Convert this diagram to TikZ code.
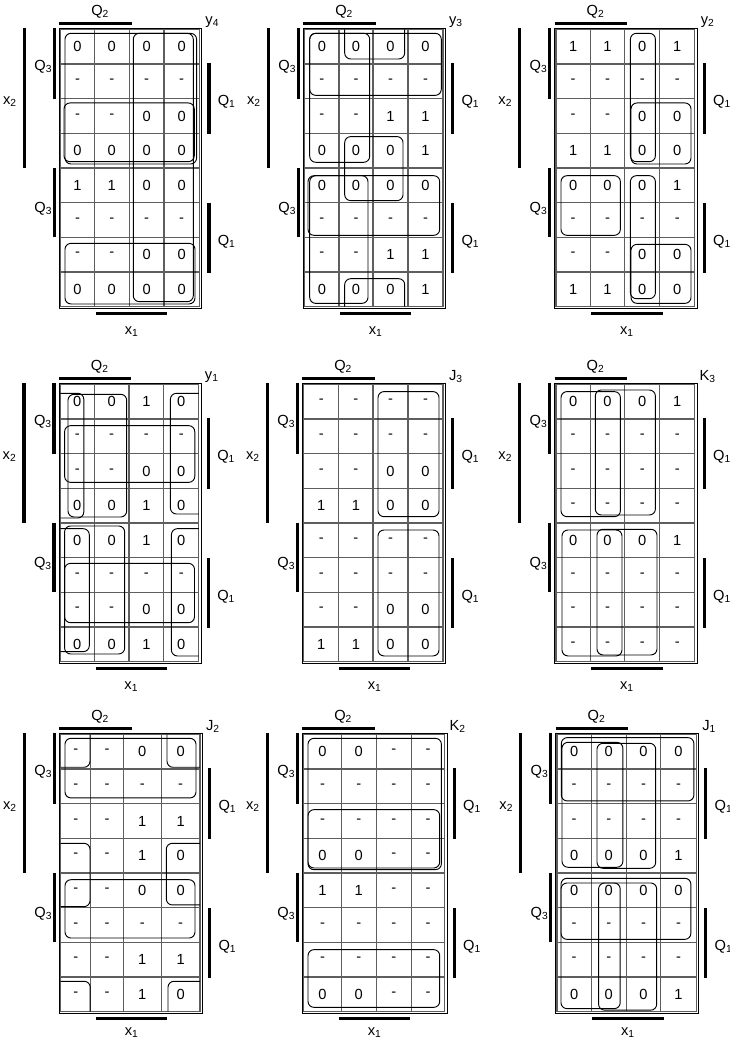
\documentclass[tikz,border=0pt]{standalone}
\usepackage{fontspec}
\setmainfont{Liberation Sans}
\usetikzlibrary{calc}
\definecolor{gridgray}{HTML}{5E5E5E}
\newcommand{\kfont}{\fontsize{11}{13}\selectfont}
\newcommand{\kh}{34.67}
\tikzset{
  kgrid/.style={draw=gridgray, line width=1pt},
  kframe/.style={draw=black, line width=0.6pt},
  kbar/.style={draw=black, line width=2.5pt},
  kloop/.style={draw=black, line width=0.7pt, rounded corners=4.5pt},
  kcell/.style={font=\kfont, inner sep=0pt},
  klabel/.style={font=\kfont, inner sep=0pt}
}
% #1 name, #2 top, #3-#7 column lines, #8 output, #9 gap below for x1
\newcommand{\kmap}[9]{%
  \foreach \x [count=\n from 0] in {#3,#4,#5,#6,#7}
    \coordinate (#1-v\n) at (\x,#2);
  \foreach \n in {0,...,8}
    \coordinate (#1-h\n) at (#3,{#2+\n*\kh});
  \foreach \a/\b [count=\n from 0] in {#3/#4,#4/#5,#5/#6,#6/#7}
    \coordinate (#1-c\n) at ({(\a+\b)/2},#2);
  \foreach \n in {0,...,7}
    \coordinate (#1-r\n) at (#3,{#2+(\n+0.5)*\kh});
  % grid
  \foreach \n in {1,2,3} \draw[kgrid] (#1-v\n) -- (#1-v\n |- #1-h8);
  \foreach \n in {1,...,7} \draw[kgrid] (#1-h\n) -- (#1-h\n -| #1-v4);
  \draw[kgrid] (#1-v0) rectangle (#1-v4 |- #1-h8);
  \draw[kframe] ($(#1-v0)+(-1.3,-1)$) rectangle ($(#1-v4 |- #1-h8)+(2.3,1.7)$);
  % bars
  \draw[kbar] ($(#1-v0)+(-1.3,-6)$) -- ($(#1-v0)+(71,-6)$);
  \draw[kbar] ($(#1-h8)+(35.3,6.7)$) -- ($(#1-h8)+(106.7,6.7)$);
  \draw[kbar] ($(#1-v0)+(-6.4,-1)$) -- ($(#1-h2)+(-6.4,0)$);
  \draw[kbar] ($(#1-h4)+(-6.4,0)$) -- ($(#1-h6)+(-6.4,0)$);
  \draw[kbar] ($(#1-v0)+(-36.4,-1)$) -- ($(#1-h4)+(-36.4,0)$);
  \draw[kbar] ($(#1-v4 |- #1-h1)+(9.6,-0.7)$) -- ($(#1-v4 |- #1-h3)+(9.6,1)$);
  \draw[kbar] ($(#1-v4 |- #1-h5)+(9.6,0.7)$) -- ($(#1-v4 |- #1-h7)+(9.6,1.3)$);
  % labels
  \node[klabel] (#1-q2) at ($(#1-v0)+(39.5,-17.5)$) {Q\textsubscript{2}};
  \node[klabel] (#1-x1) at ($(#1-h8)+(71,#9)$) {x\textsubscript{1}};
  \node[klabel] (#1-q3a) at ($(#1-v0)+(-17.4,37.4)$) {Q\textsubscript{3}};
  \node[klabel] (#1-q3b) at ($(#1-v0)+(-17.4,179)$) {Q\textsubscript{3}};
  \node[klabel] (#1-x2) at ($(#1-v0)+(-50.7,72.4)$) {x\textsubscript{2}};
  \node[klabel] (#1-q1a) at ($(#1-v4)+(27.4,72.4)$) {Q\textsubscript{1}};
  \node[klabel] (#1-q1b) at ($(#1-v4)+(27.4,212.4)$) {Q\textsubscript{1}};
  \node[klabel] (#1-fn) at ($(#1-v4)+(13,-7.6)$) {#8};
}
\newcommand{\kvals}[2]{%
  \foreach \row [count=\i from 0] in {#2}
    \foreach \v [count=\j from 0] in \row
      \node[kcell] (#1-\i\j) at (#1-c\j |- #1-r\i) {\v};
}
% #1 map, #2-#5 left/top/right/bottom lines, #6-#9 insets
\newcommand{\kloop}[9]{%
  \draw[kloop] ($(#1-v#2 |- #1-h#3)+(#6,#7)$) rectangle ($(#1-v#4 |- #1-h#5)+(-#8,-#9)$);
}

\begin{document}
\begin{tikzpicture}[x=0.75pt, y=-0.75pt]
  \useasboundingbox (0,0) rectangle (730,1040);

  % y4
  \kmap{m1}{29.3}{60.7}{94.3}{129.3}{164}{199.3}{y\textsubscript{4}}{25}
  \kvals{m1}{{0,0,0,0},{-,-,-,-},{-,-,0,0},{0,0,0,0},{1,1,0,0},{-,-,-,-},{-,-,0,0},{0,0,0,0}}
  \kloop{m1}{0}{0}{4}{4}{4.3}{4}{2.7}{4}
  \kloop{m1}{2}{0}{4}{8}{4}{4}{6}{5}
  \kloop{m1}{0}{2}{4}{4}{3.3}{4.3}{5}{6.3}
  \kloop{m1}{0}{6}{4}{8}{4.3}{6}{4.3}{2.7}

  % y3
  \kmap{m2}{29.3}{304.7}{339}{373}{408}{443}{y\textsubscript{3}}{25}
  \kvals{m2}{{0,0,0,0},{-,-,-,-},{-,-,1,1},{0,0,0,1},{0,0,0,0},{-,-,-,-},{-,-,1,1},{0,0,0,1}}
  \kloop{m2}{0}{0}{2}{4}{5}{4}{3.3}{5.7}
  \kloop{m2}{0}{0}{4}{2}{5}{4}{1.7}{3.3}
  \kloop{m2}{1}{3}{3}{5}{5.7}{3.3}{5}{2}
  \kloop{m2}{0}{4}{4}{6}{3.3}{7.7}{3.3}{2}
  \kloop{m2}{0}{4}{2}{8}{5}{7.7}{5}{3.3}
  \draw[kloop] ($(m2-v1)+(5.7,0)$) |- ($(m2-v3 |- m2-h1)+(-3.3,-5)$) -- ($(m2-v3)+(-3.3,0)$);
  \draw[kloop] ($(m2-v1 |- m2-h8)+(5.7,0)$) |- ($(m2-v3 |- m2-h7)+(-3.3,6.7)$) -- ($(m2-v3 |- m2-h8)+(-3.3,0)$);

  % y2
  \kmap{m3}{29.3}{556}{590.3}{624.7}{659.7}{694.7}{y\textsubscript{2}}{25}
  \kvals{m3}{{1,1,0,1},{-,-,-,-},{-,-,0,0},{1,1,0,0},{0,0,0,1},{-,-,-,-},{-,-,0,0},{1,1,0,0}}
  \kloop{m3}{2}{0}{3}{4}{5.7}{4}{4.3}{6.3}
  \kloop{m3}{2}{2}{4}{4}{6.3}{4.3}{3.7}{4}
  \kloop{m3}{0}{4}{2}{6}{5}{7.7}{4.3}{2}
  \kloop{m3}{2}{4}{3}{8}{5.7}{7.7}{4.3}{8}
  \kloop{m3}{2}{6}{4}{8}{6.3}{7}{3.7}{3.3}

  % y1
  \kmap{m4}{384.3}{60.3}{94.3}{129}{163.7}{198.8}{y\textsubscript{1}}{25}
  \kvals{m4}{{0,0,1,0},{-,-,-,-},{-,-,0,0},{0,0,1,0},{0,0,1,0},{-,-,-,-},{-,-,0,0},{0,0,1,0}}
  \draw[kloop] ($(m4-h0)+(0,9)$) -| ($(m4-v1 |- m4-h4)+(-10.5,-5)$) -- ($(m4-h4)+(0,-5)$);
  \draw[kloop] ($(m4-v4)+(0,9)$) -| ($(m4-v3 |- m4-h4)+(6.7,-9)$) -- ($(m4-v4 |- m4-h4)+(0,-9)$);
  \kloop{m4}{0}{0}{2}{4}{7.7}{10}{2.3}{6}
  \kloop{m4}{0}{1}{4}{3}{4.3}{6.7}{4}{6}
  \draw[kloop] ($(m4-h4)+(0,5.7)$) -| ($(m4-v1 |- m4-h8)+(-5,-10)$) -- ($(m4-h8)+(0,-10)$);
  \draw[kloop] ($(m4-v4 |- m4-h4)+(0,5.7)$) -| ($(m4-v3 |- m4-h8)+(7.7,-5.7)$) -- ($(m4-v4 |- m4-h8)+(0,-5.7)$);
  \kloop{m4}{0}{4}{2}{8}{4.3}{3}{4.3}{7.7}
  \kloop{m4}{0}{5}{4}{7}{4.3}{5.7}{4.3}{4.3}

  % J3
  \kmap{m5}{384.3}{303.7}{338.7}{373}{408}{443}{J\textsubscript{3}}{25}
  \kvals{m5}{{-,-,-,-},{-,-,-,-},{-,-,0,0},{1,1,0,0},{-,-,-,-},{-,-,-,-},{-,-,0,0},{1,1,0,0}}
  \kloop{m5}{2}{0}{4}{4}{5}{7.3}{4}{6.3}
  \kloop{m5}{2}{4}{4}{8}{5}{7}{4}{5.7}

  % K3
  \kmap{m6}{384.3}{556}{590.3}{624.7}{659.7}{694.7}{K\textsubscript{3}}{25}
  \kvals{m6}{{0,0,0,1},{-,-,-,-},{-,-,-,-},{-,-,-,-},{0,0,0,1},{-,-,-,-},{-,-,-,-},{-,-,-,-}}
  \kloop{m6}{0}{0}{2}{4}{5}{7.3}{4.3}{6.3}
  \kloop{m6}{1}{0}{3}{4}{5}{5.7}{4.3}{8}
  \kloop{m6}{0}{4}{2}{8}{6}{7}{2.7}{5.7}
  \kloop{m6}{1}{4}{3}{8}{6.7}{6.3}{2.7}{6.7}

  % J2
  \kmap{m7}{734.3}{60.7}{90.7}{123.3}{161.3}{200}{J\textsubscript{2}}{21}
  \kvals{m7}{{-,-,0,0},{-,-,-,-},{-,-,1,1},{-,-,1,0},{-,-,0,0},{-,-,-,-},{-,-,1,1},{-,-,1,0}}
  \kloop{m7}{0}{0}{4}{2}{4.3}{4}{4}{5.7}
  \kloop{m7}{0}{4}{4}{6}{4.3}{6.7}{5}{4.3}
  \draw[kloop] ($(m7-v1)+(-0.7,0)$) |- ($(m7-h1)+(0,-1.7)$);
  \draw[kloop] ($(m7-v3)+(5.7,0)$) |- ($(m7-v4 |- m7-h1)+(0,-1.7)$);
  \draw[kloop] ($(m7-h3)+(0,5)$) -| ($(m7-v1 |- m7-h5)+(-0.7,-1)$) -- ($(m7-h5)+(0,-1)$);
  \draw[kloop] ($(m7-v4 |- m7-h3)+(0,5)$) -| ($(m7-v3 |- m7-h5)+(5,-2.7)$) -- ($(m7-v4 |- m7-h5)+(0,-2.7)$);
  \draw[kloop] ($(m7-h7)+(0,4.3)$) -| ($(m7-v1 |- m7-h8)+(-0.5,0)$);
  \draw[kloop] ($(m7-v4 |- m7-h7)+(0,4.3)$) -| ($(m7-v3 |- m7-h8)+(6.7,0)$);

  % K2
  \kmap{m8}{734.3}{303.7}{341.3}{376.3}{411.3}{444.7}{K\textsubscript{2}}{21}
  \kvals{m8}{{0,0,-,-},{-,-,-,-},{-,-,-,-},{0,0,-,-},{1,1,-,-},{-,-,-,-},{-,-,-,-},{0,0,-,-}}
  \kloop{m8}{0}{0}{4}{4}{4.3}{4}{3.3}{3.3}
  \kloop{m8}{0}{2}{4}{4}{4.3}{6}{5}{5}
  \kloop{m8}{0}{6}{4}{8}{4.3}{7.3}{5}{4.3}

  % J1
  \kmap{m9}{734.3}{557}{591.3}{626.2}{660.7}{696.2}{J\textsubscript{1}}{21}
  \kvals{m9}{{0,0,0,0},{-,-,-,-},{-,-,-,-},{0,0,0,1},{0,0,0,0},{-,-,-,-},{-,-,-,-},{0,0,0,1}}
  \kloop{m9}{0}{0}{4}{2}{4.3}{3.3}{2.3}{2.7}
  \kloop{m9}{0}{0}{2}{4}{5}{8}{3.3}{5.7}
  \kloop{m9}{1}{0}{3}{4}{5.7}{9}{5}{4.7}
  \kloop{m9}{0}{4}{4}{6}{4}{5.3}{5.3}{3}
  \kloop{m9}{0}{4}{2}{8}{4}{10}{6}{3}
  \kloop{m9}{1}{4}{3}{8}{7.3}{10}{4}{1.5}
\end{tikzpicture}
\end{document}
